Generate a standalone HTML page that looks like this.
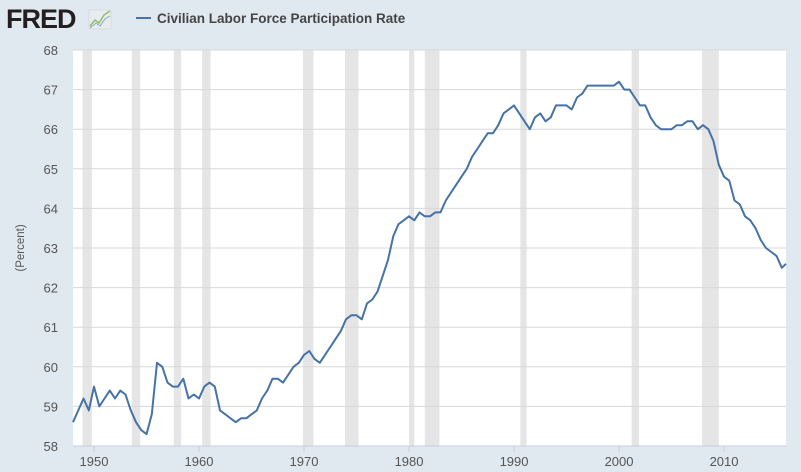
<!DOCTYPE html>
<html><head><meta charset="utf-8"><style>
body{margin:0;background:#e1e9f0;font-family:"Liberation Sans",sans-serif;}
#wrap{position:relative;width:801px;height:472px;overflow:hidden;background:#e1e9f0}
</style></head><body>
<div id="wrap">
<svg id="c" width="801" height="472">
<g>
<text x="6" y="28" font-size="27" font-weight="bold" fill="#231f20" font-family="Liberation Sans" letter-spacing="-1">FRED</text>
<rect x="89" y="10" width="22" height="19" fill="#e8ecef" stroke="#ccc" stroke-width="0.5"/>
<polyline points="90,26 95,20 99,23 104,15 110,11" fill="none" stroke="#8ec06c" stroke-width="1.5"/>
<polyline points="90,28 96,23 100,26 105,19 110,16" fill="none" stroke="#9db3c8" stroke-width="1.2"/>
</g>
<line x1="136" y1="18" x2="151" y2="18" stroke="#4572a7" stroke-width="2"/>
<text x="157" y="23" font-size="13.5" font-weight="bold" fill="#444">Civilian Labor Force Participation Rate</text>
<text transform="translate(24,248) rotate(-90)" font-size="11.5" fill="#555" text-anchor="middle">(Percent)</text>
<g id="plot"></g>
</svg>
</div>
<script>
const yTicks=[58,59,60,61,62,63,64,65,66,67,68];
const xTicks=[1950,1960,1970,1980,1990,2000,2010];
const recStart=[1948.9,1953.6,1957.6,1960.3,1969.9,1973.9,1980.0,1981.5,1990.6,2001.2,2007.9];
const recEnd=[1949.8,1954.4,1958.3,1961.1,1970.9,1975.2,1980.5,1982.9,1991.2,2001.9,2009.5];
const startYear=1948.0, step=0.5;
const values=[58.6,58.9,59.2,58.9,59.5,59.0,59.2,59.4,59.2,59.4,59.3,58.9,58.6,58.4,58.3,58.8,60.1,60.0,59.6,59.5,59.5,59.7,59.2,59.3,59.2,59.5,59.6,59.5,58.9,58.8,58.7,58.6,58.7,58.7,58.8,58.9,59.2,59.4,59.7,59.7,59.6,59.8,60.0,60.1,60.3,60.4,60.2,60.1,60.3,60.5,60.7,60.9,61.2,61.3,61.3,61.2,61.6,61.7,61.9,62.3,62.7,63.3,63.6,63.7,63.8,63.7,63.9,63.8,63.8,63.9,63.9,64.2,64.4,64.6,64.8,65.0,65.3,65.5,65.7,65.9,65.9,66.1,66.4,66.5,66.6,66.4,66.2,66.0,66.3,66.4,66.2,66.3,66.6,66.6,66.6,66.5,66.8,66.9,67.1,67.1,67.1,67.1,67.1,67.1,67.2,67.0,67.0,66.8,66.6,66.6,66.3,66.1,66.0,66.0,66.0,66.1,66.1,66.2,66.2,66.0,66.1,66.0,65.7,65.1,64.8,64.7,64.2,64.1,63.8,63.7,63.5,63.2,63.0,62.9,62.8,62.5,62.6];
const L=73,R=786,T=50,B=446,x0=1948.0,x1=2015.9;
const X=v=>L+(v-x0)/(x1-x0)*(R-L);
const Y=v=>B-(v-58)/10*(B-T);
const NS='http://www.w3.org/2000/svg';
const g=document.getElementById('plot');
function mk(t,a){const e=document.createElementNS(NS,t);for(const k in a)e.setAttribute(k,a[k]);g.appendChild(e);return e;}
let bg=mk('rect',{x:L,y:T,width:R-L,height:B-T,fill:'#fff'});


recStart.forEach((s,i)=>{const e=mk('rect',{x:X(s),y:T,width:X(recEnd[i])-X(s),height:B-T,fill:'#e5e5e5'});

});
yTicks.forEach(v=>{if(v>58){const l=mk('line',{x1:L,x2:R,y1:Y(v),y2:Y(v),stroke:'#d8d8d8','stroke-width':1});

}
const t=mk('text',{x:58,y:Y(v)+5,'font-size':13,fill:'#555','text-anchor':'end'});t.textContent=v;

});
const ax=mk('line',{x1:L,x2:R,y1:B,y2:B,stroke:'#c0d0e0','stroke-width':1});


xTicks.forEach(v=>{const k=mk('line',{x1:X(v),x2:X(v),y1:B,y2:B+6,stroke:'#c0d0e0'});


const t=mk('text',{x:X(v),y:B+20,'font-size':13,fill:'#555','text-anchor':'middle'});t.textContent=v;

});
const pts=values.map((v,i)=>X(Math.min(startYear+i*step,x1)).toFixed(1)+','+Y(v).toFixed(1)).join(' ');
const pl=mk('polyline',{points:pts,fill:'none',stroke:'#4572a7','stroke-width':2,'stroke-linejoin':'round'});


</script>
</body></html>
